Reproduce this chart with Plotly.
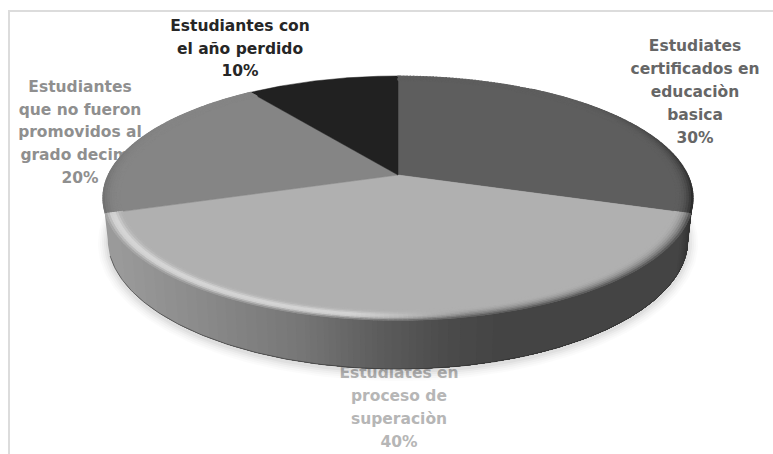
import numpy as np
import plotly.graph_objects as go

# ---- data (clockwise from 12 o'clock) ----
values = [30, 40, 20, 10]
slice_colors = ["#5e5e5e", "#b0b0b0", "#858585", "#212121"]
label_lines = [
    ["Estudiates", "certificados en", "educaciòn", "basica"],
    ["Estudiates en", "proceso de", "superaciòn"],
    ["Estudiantes", "que no fueron", "promovidos al", "grado decimo"],
    ["Estudiantes con", "el año perdido"],
]
label_colors = ["#666666", "#b6b6b6", "#8f8f8f", "#262626"]
label_centers = [(695, 47.5), (399, 374.5), (80, 88), (240, 27)]
LINE_PITCH = 22.8

# ---- view geometry (perspective of the tilted disc) ----
CX, CY = 398, 175
A, B, K = 289.7, 117.7, 0.1886
DEPTH = 39.8
W, H = 773, 454
FONT = "DejaVu Sans"


def project(theta, r=1.0, z=0.0):
    u, v = r * np.sin(theta), r * np.cos(theta)
    w = 1 + K * v
    return CX + A * u / w * (1 - 0.016 * z), CY - B * v / w + DEPTH * z / w


def side_grey(x):
    return np.interp(x, [100, 110, 200, 300, 380, 450, 500, 680, 693],
                     [150, 155, 138, 118, 92, 74, 68, 68, 48])


def hex2g(c):
    return int(c[1:3], 16)


fig = go.Figure()

# labels go first so that the disc covers them
txt_x, txt_y, txt_s, txt_c = [], [], [], []
total = sum(values)
for lines, col, (lx, ly), val in zip(label_lines, label_colors, label_centers, values):
    for i, t in enumerate(lines + [f"{round(100 * val / total)}%"]):
        txt_x.append(lx)
        txt_y.append(ly + i * LINE_PITCH)
        txt_s.append(t)
        txt_c.append(col)
fig.add_trace(go.Scatter(x=txt_x, y=txt_y, text=txt_s, mode="text", textposition="middle center",
                         textfont=dict(family=FONT, size=15.5, color=txt_c, weight="bold"),
                         hoverinfo="skip", showlegend=False))

# soft shadow
t_all = np.linspace(0, 2 * np.pi, 241)
for grow, op in zip([10, 8, 6, 4, 2], [0.014, 0.018, 0.024, 0.03, 0.036]):
    sx, sy = project(t_all, 1.0, 1.0)
    sx = CX + (sx - CX) * (1 + grow / 295)
    sy = CY + 25 + (sy - CY - 25) * (1 + grow / 170) + 2
    fig.add_trace(go.Scatter(x=sx, y=sy, mode="lines", fill="toself", line=dict(width=0),
                             fillcolor=f"rgba(0,0,0,{op})", hoverinfo="skip", showlegend=False))

buckets = {}


def add_quad(g, xs, ys):
    g = int(round(float(g)))
    b = buckets.setdefault(g, ([], []))
    b[0].extend(list(xs) + [xs[0], None])
    b[1].extend(list(ys) + [ys[0], None])


def flush():
    for g, (xs, ys) in sorted(buckets.items()):
        c = f"rgb({g},{g},{g})"
        fig.add_trace(go.Scatter(x=xs, y=ys, mode="lines", fill="toself", fillcolor=c,
                                 line=dict(color=c, width=1.1), hoverinfo="skip", showlegend=False))
    buckets.clear()


# outer wall: starts at the disc's widest points so its silhouette is tangent to the top face
widest = np.arccos(-K)
t_side = np.linspace(2 * np.pi - widest, widest, 400)
grey_prev = None
for i, a in enumerate(t_side[:-1]):
    xa, _ = project(a)
    g = int(round(float(side_grey(xa)) / 2) * 2)
    if g == grey_prev:
        continue
    grey_prev = g
    th = t_side[i:]
    x1, y1 = project(th)
    x2, y2 = project(th[::-1], 1, 1)
    c = f"rgb({g},{g},{g})"
    fig.add_trace(go.Scatter(x=np.r_[x1, x2], y=np.r_[y1, y2], mode="lines", fill="toself",
                             fillcolor=c, line=dict(width=0), hoverinfo="skip", showlegend=False))

# thin dark edge at the foot of the wall
tb = np.linspace(np.pi * 0.62, np.pi * 1.4, 200)
bx, by = project(tb, 1, 1)
fig.add_trace(go.Scatter(x=bx, y=by, mode="lines", line=dict(color="rgba(40,40,40,0.55)", width=1),
                         hoverinfo="skip", showlegend=False))

# top faces
angle = 0.0
edges = []
for val, col in zip(values, slice_colors):
    sweep = 2 * np.pi * val / total
    th = np.linspace(angle, angle + sweep, 140)
    x, y = project(th)
    fig.add_trace(go.Scatter(x=np.r_[CX, x, CX], y=np.r_[CY, y, CY], mode="lines", fill="toself",
                             fillcolor=col, line=dict(color=col, width=0.5),
                             hoverinfo="skip", showlegend=False))
    edges.append((angle, angle + sweep, hex2g(col)))
    angle += sweep

# bevel along the rim: highlighted on the light slice, darkening on the others
RINGS = np.linspace(0.945, 1.0, 8)
for a0, a1, base in edges:
    if base < 50:
        continue
    th = np.linspace(a0, a1, int(10 + 70 * (a1 - a0)))
    for a, b in zip(th[:-1], th[1:]):
        m = (a + b) / 2
        mx, _ = project(m)
        if base > 150:
            front = np.clip((-0.05 - np.cos(m)) / 0.3, 0, 1)
            hi = np.clip((470 - mx) / 120, 0, 1)
            wall = side_grey(mx)
        elif base > 110:
            front = np.clip((0.5 - np.cos(m)) / 0.7, 0, 1)
            hi, wall = 0.0, 108
        else:
            front = np.clip((0.75 - np.cos(m)) / 0.9, 0, 1)
            hi, wall = 0.0, 30
        for i, (r0, r1) in enumerate(zip(RINGS[:-1], RINGS[1:])):
            t = (i + 0.5) / (len(RINGS) - 1)
            dark = t ** 2.2
            g = base + (wall - base) * dark * 0.9
            bump = np.exp(-((t - 0.55) / 0.28) ** 2)
            g = g + (222 - g) * bump * hi * 0.85
            g = base + (g - base) * front
            xs, ys = zip(project(a, r0), project(b, r0), project(b, r1), project(a, r1))
            add_quad(g, xs, ys)
flush()

fig.update_layout(
    width=W, height=H, margin=dict(l=0, r=0, t=0, b=0), showlegend=False,
    paper_bgcolor="white", plot_bgcolor="white",
    xaxis=dict(range=[0, W], visible=False, fixedrange=True),
    yaxis=dict(range=[H, 0], visible=False, fixedrange=True),
    shapes=[
        dict(type="line", x0=9, x1=W, y0=11, y1=11, line=dict(color="#dcdcdc", width=2), layer="below"),
        dict(type="line", x0=9, x1=9, y0=10, y1=H, line=dict(color="#dcdcdc", width=2), layer="below"),
    ],
)
fig.write_html("out.html", config=dict(displayModeBar=False),
               post_script="document.body.style.margin='0';document.documentElement.style.overflow='hidden';")
